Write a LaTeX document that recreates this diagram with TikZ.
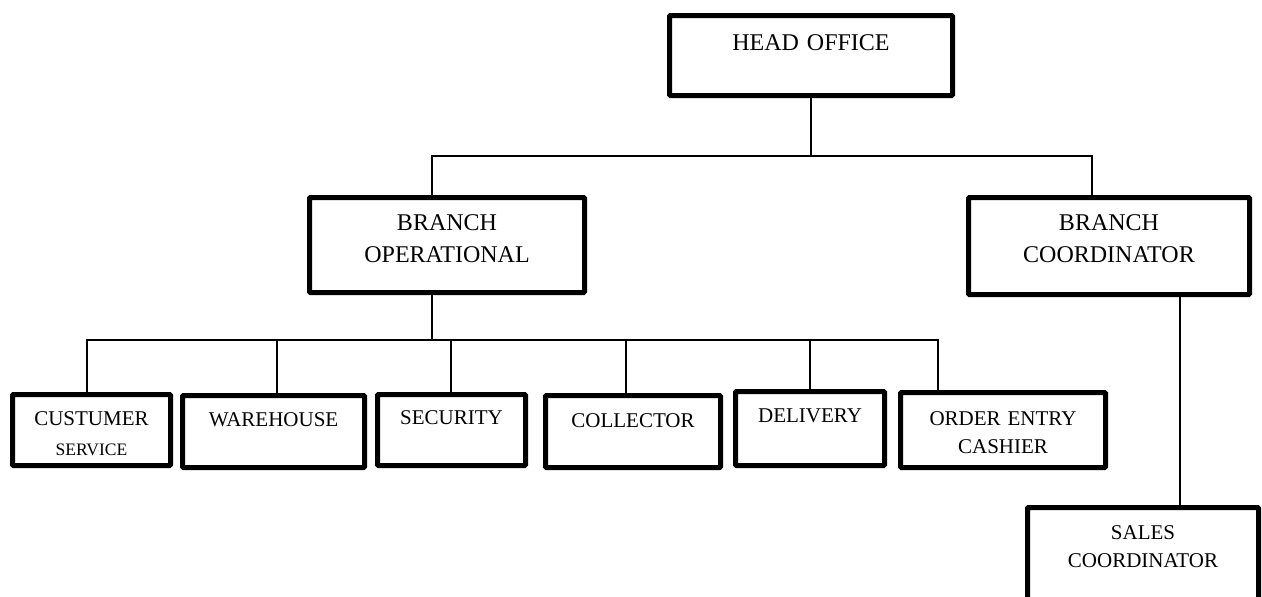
\documentclass[tikz,border=0pt]{standalone}
\usepackage{fontspec}
\setmainfont{Liberation Serif}
\usepackage{tikz}
\usetikzlibrary{positioning}

\begin{document}
\begin{tikzpicture}[
    x=1pt, y=-1pt,
    box/.style={rectangle, draw, line width=5pt, rounded corners=1pt, inner sep=0pt, anchor=north, align=center},
    bigtext/.style={font=\fontsize{24}{32}\selectfont},
    smalltext/.style={font=\fontsize{21}{28}\selectfont},
    link/.style={line width=1.7pt}
]
    \useasboundingbox (0,0) rectangle (1262,597);
    \clip (0,0) rectangle (1262,597);

    % Head office
    \node[box, bigtext, text width=283pt, text height=34.5pt, text depth=45.5pt] (head) at (811,13) {HEAD OFFICE};

    % Branches
    \node[box, bigtext, text width=275pt, text height=32.5pt, text depth=62.5pt] (bop) at (447,195) {BRANCH\\OPERATIONAL};
    \node[box, bigtext, text width=281pt, text height=32.5pt, text depth=64.5pt] (bco) at (1109,195) {BRANCH\\COORDINATOR};

    % Operational staff
    \node[box, smalltext, text width=158pt, text height=30.5pt, text depth=40.5pt] (cust) at (91.5,392) {CUSTUMER\\[2pt]{\fontsize{17.5}{21}\selectfont SERVICE}};
    \node[box, smalltext, text width=182pt, text height=30.5pt, text depth=41.5pt] (ware) at (273.5,393) {WAREHOUSE};
    \node[box, smalltext, text width=148pt, text height=29.5pt, text depth=41.5pt] (secu) at (451.5,392) {SECURITY};
    \node[box, smalltext, text width=175pt, text height=31.5pt, text depth=40.5pt] (coll) at (633,393) {COLLECTOR};
    \node[box, smalltext, text width=149pt, text height=30.5pt, text depth=43.5pt] (deli) at (810,389) {DELIVERY};
    \node[box, smalltext, text width=205pt, text height=32.5pt, text depth=42.5pt] (orde) at (1003,390) {ORDER ENTRY\\CASHIER};

    % Coordinator staff
    \node[box, smalltext, text width=231pt, text height=31.5pt, text depth=98.5pt] (sales) at (1143,505) {SALES\\COORDINATOR};

    % Bus points
    \coordinate (hub1) at (811,156);
    \coordinate (hub2) at (432,340);

    % Connectors
    \draw[link] (head.south) -- (hub1);
    \draw[link] ([xshift=-15pt]bop.north) |- (hub1) -| ([xshift=-17pt]bco.north);
    \draw[link] ([xshift=-15pt]bop.south) -- (hub2);
    \draw[link] ([xshift=-4.5pt]cust.north) |- ([xshift=-65pt]orde.north |- hub2) -- ([xshift=-65pt]orde.north);
    \draw[link] ([xshift=3.5pt]ware.north) -- ([xshift=3.5pt]ware.north |- hub2);
    \draw[link] ([xshift=-0.5pt]secu.north) -- ([xshift=-0.5pt]secu.north |- hub2);
    \draw[link] ([xshift=-7pt]coll.north) -- ([xshift=-7pt]coll.north |- hub2);
    \draw[link] (deli.north) -- (deli.north |- hub2);
    \draw[link] ([xshift=71pt]bco.south) -- ([xshift=37pt]sales.north);
\end{tikzpicture}
\end{document}
